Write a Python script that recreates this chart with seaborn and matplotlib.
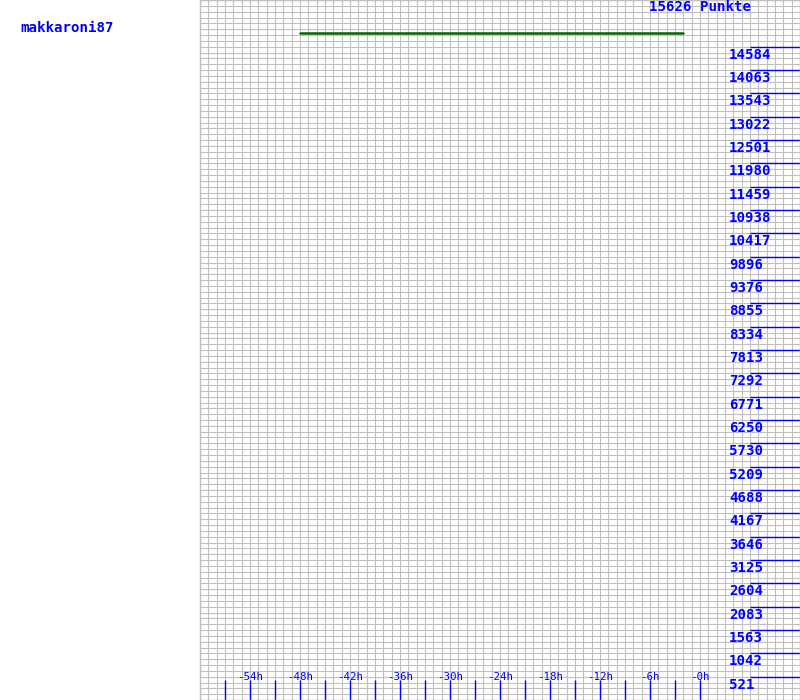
import matplotlib
matplotlib.use("Agg")
import matplotlib.pyplot as plt
from matplotlib.ticker import MultipleLocator
import seaborn as sns
import pandas as pd

player = "makkaroni87"
total_points = 15626
hours = [-48, -2]
points = [14890, 14890]
hour_ticks = [-54, -48, -42, -36, -30, -24, -18, -12, -6, 0]
hour_labels = ["-54h", "-48h", "-42h", "-36h", "-30h", "-24h", "-18h", "-12h", "-6h", "-0h"]
point_ticks = [521, 1042, 1563, 2083, 2604, 3125, 3646, 4167, 4688, 5209, 5730, 6250,
               6771, 7292, 7813, 8334, 8855, 9376, 9896, 10417, 10938, 11459, 11980,
               12501, 13022, 13543, 14063, 14584]
hour_marks = list(range(-57, 1, 3))

sns.set_style("white")
plt.rcParams['font.family'] = ['DejaVu Sans Mono', 'DejaVu Sans']

fig = plt.figure(figsize=(8, 7), dpi=100)
ax = fig.add_axes([0.25, 0, 0.75, 1])
ax.set_xlim(-60, 12)
ax.set_ylim(0, total_points)

ax.xaxis.set_minor_locator(MultipleLocator(1))
ax.yaxis.set_minor_locator(MultipleLocator(total_points / 120))
ax.set_xticks([])
ax.set_yticks([])
ax.grid(which='minor', color='#c0c0c0', linewidth=0.8)
ax.tick_params(which='both', length=0)
for s in ax.spines.values():
    s.set_color('#c0c0c0')
    s.set_linewidth(1)

df = pd.DataFrame({"h": hours, "p": points})
sns.lineplot(data=df, x="h", y="p", ax=ax, color='#006400', linewidth=1.8)
ax.set_xlabel("")
ax.set_ylabel("")

px = total_points / 700
ax.vlines(hour_marks, 0, 20 * px, color='#0000ff', linewidth=1.0)
ax.hlines(point_ticks, 6, 12, color='#0000ff', linewidth=1.0)

for h, lab in zip(hour_ticks, hour_labels):
    ax.text(h, 23 * px, lab, ha='center', va='center', color='#0000ff', fontsize=7.8)
for v in point_ticks:
    ax.text(3.5, v - 8 * px, str(v), ha='left', va='center', color='#0000ff',
            fontsize=10.2, fontweight='bold')

fig.text(20 / 800, 1 - 28 / 700, player, ha='left', va='center', color='#0000ff',
         fontsize=10.2, fontweight='bold')
fig.text(649 / 800, 1 - 7 / 700, f"{total_points} Punkte", ha='left', va='center',
         color='#0000ff', fontsize=10.2, fontweight='bold')

fig.savefig("out.png", dpi=100)
